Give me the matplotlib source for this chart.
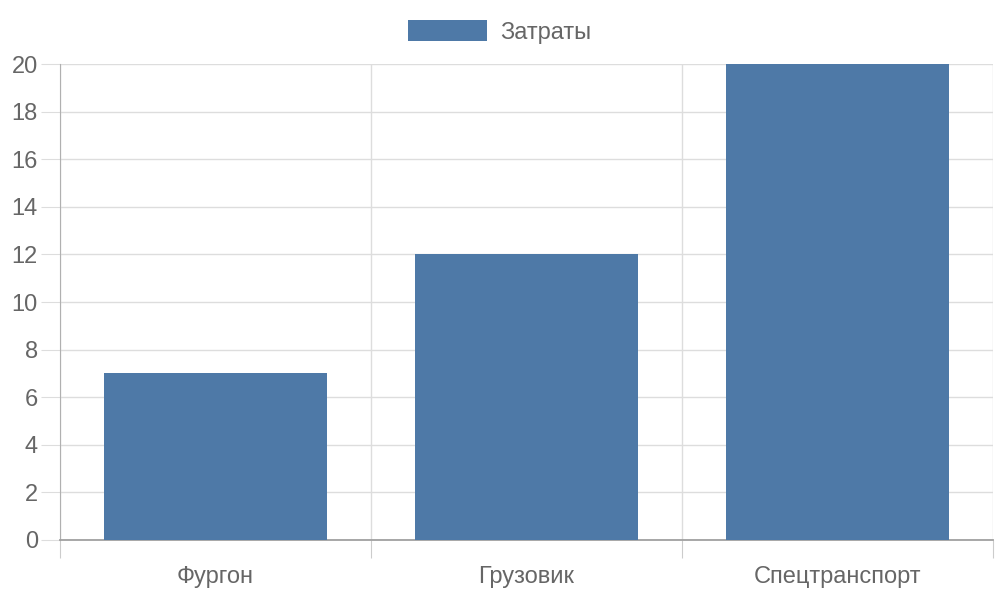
import matplotlib.pyplot as plt

# données
categories = ["Фургон", "Грузовик", "Спецтранспорт"]
zatraty = [7, 12, 20]
serie_label = "Затраты"

plt.rcParams['font.family'] = ['Liberation Sans', 'DejaVu Sans']

fig = plt.figure(figsize=(10, 6), dpi=100)
ax = fig.add_axes([0.060, 0.100, 0.933, 0.7933])

x = [i + 0.5 for i in range(len(categories))]
ax.bar(x, zatraty, width=0.72, color='#4e79a7', label=serie_label, zorder=3)

ax.set_xlim(0, len(categories))
ax.set_ylim(0, 20)
ax.set_yticks(range(0, 21, 2))
ax.set_xticks(range(0, len(categories) + 1))
ax.set_xticklabels([])
ax.set_xticks(x, minor=True)
ax.set_xticklabels(categories, minor=True)

ax.grid(True, color='#dddddd', linewidth=1, zorder=0)
ax.tick_params(axis='y', length=14, color='#dddddd', labelsize=17, labelcolor='#666666', pad=2)
ax.tick_params(axis='x', which='major', length=13, color='#cccccc')
ax.tick_params(axis='x', which='minor', length=0, labelsize=17, labelcolor='#666666', pad=19)

for side in ['top', 'right']:
    ax.spines[side].set_visible(False)
ax.spines['left'].set_color('#b0b0b0')
ax.spines['bottom'].set_color('#a0a0a0')
ax.spines['bottom'].set_linewidth(1.3)

fig.legend(loc='center', bbox_to_anchor=(0.5, 0.947), frameon=False,
           fontsize=17, labelcolor='#666666', handlelength=3.35, handleheight=0.97,
           handletextpad=0.55)

plt.savefig("out.png", dpi=100)
